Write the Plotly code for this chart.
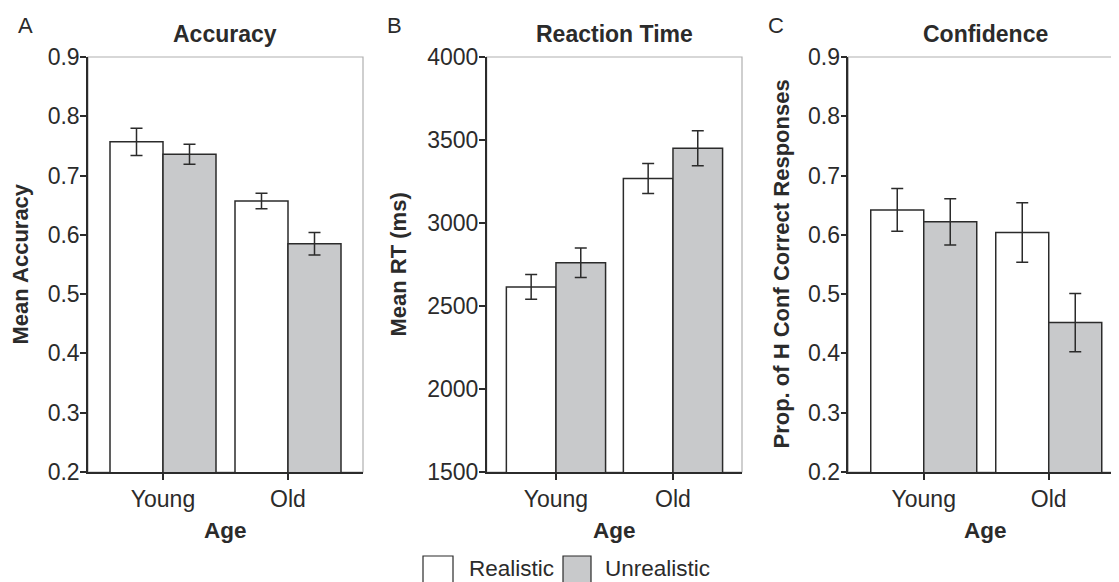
import plotly.graph_objects as go

# ---------------- data ----------------
ages = ["Young", "Old"]
conditions = ["Realistic", "Unrealistic"]

acc_realistic = [0.757, 0.657]
acc_realistic_err = [0.023, 0.013]
acc_unrealistic = [0.736, 0.585]
acc_unrealistic_err = [0.017, 0.019]

rt_realistic = [2615, 3268]
rt_realistic_err = [75, 90]
rt_unrealistic = [2761, 3450]
rt_unrealistic_err = [89, 105]

conf_realistic = [0.642, 0.604]
conf_realistic_err = [0.036, 0.050]
conf_unrealistic = [0.622, 0.452]
conf_unrealistic_err = [0.039, 0.049]

panel_titles = ["Accuracy", "Reaction Time", "Confidence"]
panel_letters = ["A", "B", "C"]
y_titles = ["Mean Accuracy", "Mean RT (ms)", "Prop. of H Conf Correct Responses"]
x_title = "Age"

# ---------------- style ----------------
PAGE_W, PAGE_H = 1119, 582
OFF = 8  # default page body margin
W, H = PAGE_W - OFF, PAGE_H - OFF
TOP, BOTTOM = 57, 472  # plot area, page pixels
FONT = "Liberation Sans, Arial, Helvetica, sans-serif"
DARK = "#2b2b2b"
GREY_FILL = "#c8c9cb"
BORDER = "#b0b0b0"


def px_x(p):
    return (p - OFF) / W


def px_y(p):
    return (BOTTOM - p) / (BOTTOM - TOP)


domains = [(88, 363), (486.7, 742), (848.3, 1119)]
xranges = [[-0.6, 1.6], [-0.592, 1.59], [-0.6035, 1.562]]
yranges = [[0.2, 0.9], [1500, 4000], [0.2, 0.9]]
dticks = [0.1, 500, 0.1]
tickfmt = [".1f", "d", ".1f"]
ytitle_x = [20, 398, 781]
letter_x = [25, 394, 776]
title_cx = [225.5, 614.3, 985.5]

series = [
    (acc_realistic, acc_realistic_err, acc_unrealistic, acc_unrealistic_err),
    (rt_realistic, rt_realistic_err, rt_unrealistic, rt_unrealistic_err),
    (conf_realistic, conf_realistic_err, conf_unrealistic, conf_unrealistic_err),
]

fig = go.Figure()
annotations = []
shapes = []

for i in range(3):
    sfx = "" if i == 0 else str(i + 1)
    xa, ya = "x" + sfx, "y" + sfx
    r, re, u, ue = series[i]
    fig.add_trace(go.Bar(
        x=ages, y=r, name=conditions[0], xaxis=xa, yaxis=ya, showlegend=False,
        marker=dict(color="white", line=dict(color=DARK, width=1.5)),
        error_y=dict(type="data", array=re, color=DARK, thickness=1.5, width=6),
    ))
    fig.add_trace(go.Bar(
        x=ages, y=u, name=conditions[1], xaxis=xa, yaxis=ya, showlegend=False,
        marker=dict(color=GREY_FILL, line=dict(color=DARK, width=1.5)),
        error_y=dict(type="data", array=ue, color=DARK, thickness=1.5, width=6),
    ))
    d0, d1 = domains[i]
    fig.layout["xaxis" + sfx] = dict(
        domain=[px_x(d0), min(1, px_x(d1))], anchor=ya, range=xranges[i],
        showline=True, linecolor=DARK, linewidth=1.5,
        ticks="outside", ticklen=6, tickwidth=1.5, tickcolor=DARK,
        tickfont=dict(family=FONT, size=23, color=DARK),
        showgrid=False, zeroline=False, fixedrange=True,
    )
    fig.layout["yaxis" + sfx] = dict(
        domain=[0, 1], anchor=xa, range=yranges[i], dtick=dticks[i],
        tickformat=tickfmt[i],
        showline=True, linecolor=DARK, linewidth=1.5,
        ticks="outside", ticklen=6, tickwidth=1.5, tickcolor=DARK,
        ticklabelstandoff=-4,
        tickfont=dict(family=FONT, size=23, color=DARK),
        showgrid=False, zeroline=False, fixedrange=True,
    )
    # light grey plot frame (top / right)
    shapes.append(dict(type="rect", xref=xa + " domain", yref=ya + " domain",
                       x0=0, x1=1, y0=0, y1=1, layer="below",
                       line=dict(color=BORDER, width=1.2)))
    cx = px_x(title_cx[i])
    annotations.append(dict(text="<b>%s</b>" % panel_titles[i], xref="paper", yref="paper",
                            x=cx, y=px_y(34), showarrow=False,
                            font=dict(family=FONT, size=23, color=DARK),
                            xanchor="center", yanchor="middle"))
    annotations.append(dict(text=panel_letters[i], xref="paper", yref="paper",
                            x=px_x(letter_x[i]), y=px_y(26), showarrow=False,
                            font=dict(family=FONT, size=22, color=DARK),
                            xanchor="center", yanchor="middle"))
    annotations.append(dict(text="<b>%s</b>" % y_titles[i], xref="paper", yref="paper",
                            x=px_x(ytitle_x[i]), y=px_y(264.5), showarrow=False,
                            textangle=-90,
                            font=dict(family=FONT, size=22, color=DARK),
                            xanchor="center", yanchor="middle"))
    annotations.append(dict(text="<b>%s</b>" % x_title, xref="paper", yref="paper",
                            x=cx, y=px_y(530), showarrow=False,
                            font=dict(family=FONT, size=22.5, color=DARK),
                            xanchor="center", yanchor="middle"))

# ---------------- manual legend ----------------
legend_items = [(423, 453, "white", 467, conditions[0]),
                (563, 591, GREY_FILL, 603, conditions[1])]
for x0, x1, fill, tx, label in legend_items:
    shapes.append(dict(type="rect", xref="paper", yref="paper",
                       x0=px_x(x0), x1=px_x(x1), y0=px_y(556), y1=px_y(600),
                       fillcolor=fill, line=dict(color=DARK, width=1.2)))
    annotations.append(dict(text=label, xref="paper", yref="paper",
                            x=px_x(tx), y=px_y(568), showarrow=False,
                            font=dict(family=FONT, size=22.5, color=DARK),
                            xanchor="left", yanchor="middle"))

fig.update_layout(
    width=W, height=H,
    margin=dict(l=0, r=0, t=TOP - OFF, b=H - (BOTTOM - OFF)),
    barmode="group", bargap=0.152, bargroupgap=0,
    plot_bgcolor="white", paper_bgcolor="white",
    shapes=shapes, annotations=annotations,
    showlegend=False,
    font=dict(family=FONT, color=DARK),
)

fig.write_html("out.html")
